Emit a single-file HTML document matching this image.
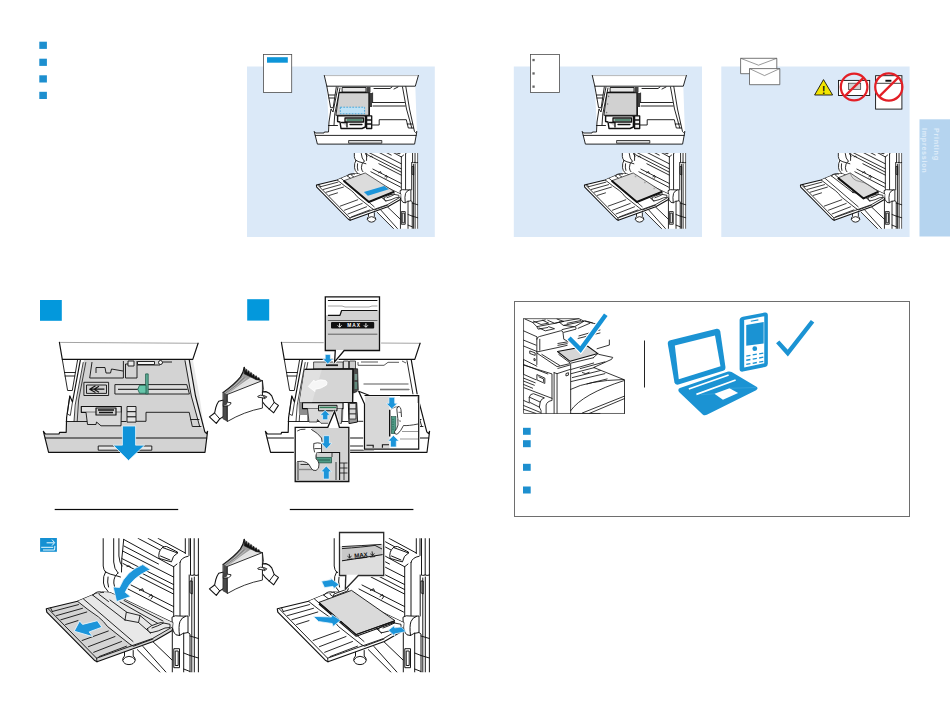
<!DOCTYPE html>
<html lang="en">
<head>
<meta charset="utf-8">
<title>Printing</title>
<style>
html,body{margin:0;padding:0;background:#fff;}
body{width:950px;height:713px;overflow:hidden;font-family:"Liberation Sans",sans-serif;}
svg{display:block;}
text{font-family:"Liberation Sans",sans-serif;}
</style>
</head>
<body>
<svg width="950" height="713" viewBox="0 0 950 713">
<defs>
<!-- ===== drawer tray shell, drawn in page coords of the large step-1 tray ===== -->
<g id="trayShell" stroke-linejoin="round" stroke-linecap="round">
  <!-- tray body gray -->
  <path d="M80.5 360 L189.5 360 L205 431.6 L207.6 431.3 L205 452.3 L48.6 452.3 L43.4 431.3 L45.5 434 L59 434 L59.7 432.3 L66 432.3 L66.5 417 Z" style="fill:var(--tray,#d3d3d3)" stroke="none"/>
  <!-- left cabinet side / rails white -->
  <path d="M62.3 359.4 L84 359.4 L76.5 400 L74 421 L66.3 421 L67.6 390.5 Z" fill="#fff" stroke="none"/>
  <path d="M185.5 360 L192.8 359.4 L199.5 396 L204.6 431 L199.7 426.5 L191.3 396 Z" style="fill:var(--wall,#e9e9e9)" stroke="none"/>
  <!-- housing -->
  <path d="M59.4 342.3 L198.1 343.2 L192.8 359.4 L62.3 359.4 Z" fill="#fff" stroke="none"/>
  <path d="M59.4 342.4 L198.1 343.3" fill="none" stroke="#9a9a9a" stroke-width="0.91"/>
  <path d="M59.4 342.3 L62.3 359.4 L192.8 359.4 L198.1 343.2" fill="none" stroke="#111" stroke-width="1.17"/>
  <!-- left side lines -->
  <path d="M62.3 359.4 L67.6 390.5 L72.3 390.5 L77.6 359.8 M64.5 372.5 L75.3 372.5 M65 376 L74.7 376" fill="none" stroke="#111" stroke-width="0.91"/>
  <path d="M80.3 360.3 L72.5 402 L69.8 396 L66.6 417.5 L66.2 432.3 L59.7 432.3 L59 434 L45.5 434 L43.4 431.3 L48.6 452.3 L205 452.3 L207.6 431.3 L206.6 433.6 L204.8 431.8 L195.5 396 L189.3 360.2" fill="none" stroke="#111" stroke-width="1.17"/>
  <path d="M83.2 362.5 L75.2 405 L74 421.5 M85.8 362.5 L78.6 400 L77.2 421.5 M69.8 396 L67.3 414 L70.3 415.5 L72.5 402" fill="none" stroke="#111" stroke-width="0.78"/>
  <!-- right wall inner -->
  <path d="M185 360.7 L191.3 396 L199.7 426.5" fill="none" stroke="#111" stroke-width="0.91"/>
  <!-- front face lines -->
  <path d="M45.2 438.1 L206.7 438.1" fill="none" stroke="#111" stroke-width="1.04"/>
  <path d="M66.2 421.5 L126 421.5 M136.5 421.3 L146 421.3 L146 412.3 L189.2 412.3 L192.3 426.5 L201 426.5 M190.7 419.5 L199 419.5" fill="none" stroke="#111" stroke-width="0.91"/>
  <!-- handle slot -->
  <rect x="98.6" y="446" width="53.2" height="4.2" style="fill:var(--slot,#e6e6e6)" stroke="#111" stroke-width="0.91"/>
</g>

<!-- empty tray details (step 1) -->
<g id="trayEmpty" fill="none" stroke="#111" stroke-width="0.91" stroke-linejoin="round">
  <!-- top compartments -->
  <path d="M89.7 378 L123.4 378 L123.4 361 M89.7 378 L92 362 M96 373 L96 367.5 L105 367.5 L106 373 L110.5 373 L111.5 369 L123 371 M125.5 378 L137 378 L137 361 M125.5 378 L125.5 364 L133 364 L133 361 M137 365 L160 365 L163 362 L172 362"/>
  <rect x="128" y="361" width="6" height="5" fill="#e8e8e8"/>
  <rect x="137.5" y="361.5" width="17" height="3" fill="#f4f4f4"/>
  <circle cx="160.5" cy="362.5" r="2" fill="#f4f4f4"/>
  <!-- arrow label -->
  <rect x="83.9" y="382.3" width="24.7" height="13.2" fill="#d9d9d9"/>
  <rect x="86.5" y="385" width="20" height="8.4" fill="#d0d0d0"/>
  <path d="M104.4 389.2 L90 389.2 M95.5 385.8 L89.7 389.2 L95.5 392.6 M99 386.3 L94 389.2 L99 392.2" stroke-width="1.17"/>
  <!-- slider track -->
  <path d="M114.9 384.6 L186.8 384.6 L189.4 394 L114.9 394 Z" fill="#dcdcdc"/>
  <path d="M118 389.3 L187.5 389.3" stroke="#333" stroke-width="1.30"/>
  <rect x="145.6" y="373.9" width="2.6" height="20" fill="#5fae97" stroke="#1d5b4b" stroke-width="0.78"/>
  <path d="M139.5 385.3 L146 385.3 L146 393.3 L139.5 393.3 L137.8 389.3 Z" fill="#66c7ab" stroke="#1d5b4b" stroke-width="0.78"/>
  <!-- front guide mechanism -->
  <rect x="81.3" y="406.5" width="40" height="5.8" fill="#e2e2e2" stroke-width="1.17"/>
  <path d="M86 412.3 L87.5 424.5 L96 424.5 L96.5 422 L101 425.8 L121 425.8 L121.3 412.3" fill="#d9d9d9"/>
  <rect x="96" y="408" width="20" height="7" fill="#cfcfcf" stroke-width="1.17"/>
  <path d="M98 410 L114 410 M99 412.5 L113 412.5" stroke-width="1.30"/>
  <rect x="127" y="406.5" width="9" height="5.2" fill="#e6e6e6"/>
  <rect x="127" y="411.7" width="9" height="5.2" fill="#e0e0e0"/>
  <rect x="127" y="416.9" width="9" height="5.2" fill="#e6e6e6"/>
</g>

<!-- big blue down arrow -->
<path id="arrowDown" d="M122.4 426 L135.6 426 L135.6 445.2 L144.6 445.2 L128.5 460.6 L113.2 445.2 L122.4 445.2 Z" fill="#0f93d9" stroke="#e8f6fd" stroke-width=".8"/>

<!-- small blue arrows (pointing down, tip at 0,0), length ~9.5 -->
<path id="arrS" d="M0 0 L-5.2 -5 L-2.6 -5 L-2.6 -9.5 L2.6 -9.5 L2.6 -5 L5.2 -5 Z" fill="#1c95da" stroke="#eaf6fd" stroke-width=".7"/>

<!-- hands holding fanned paper; local coords = 10.19x zoom of (205,360) -->
<g id="hands" stroke-linejoin="round" stroke-linecap="round">
  <!-- right hand (behind paper) -->
  <path d="M585 325 L620 322 Q660 335 680 365 L705 432 L748 462 L700 538 L655 500 Q615 470 585 425 Z" fill="#fff" stroke="#111" stroke-width="11.25"/>
  <path d="M705 432 L655 500" fill="none" stroke="#111" stroke-width="10.00"/>
  <!-- left hand back part -->
  <path d="M190 408 L140 420 Q118 450 110 485 L98 540 L45 580 L115 645 L150 600 L190 575 Z" fill="#fff" stroke="#111" stroke-width="11.25"/>
  <path d="M98 540 L150 600" fill="none" stroke="#111" stroke-width="10.00"/>
  <!-- stack side -->
  <path d="M185 330 L230 350 L230 625 L185 600 Z" fill="#4a4a4a" stroke="#222" stroke-width="6.25"/>
  <!-- fan -->
  <path d="M185 330 Q300 250 360 175 Q390 130 400 75 L585 210 L230 350 Z" fill="#9c9c9c" stroke="none"/>
  <path d="M230 350 L585 210 L470 175 Q380 230 230 350 Z" fill="#e4e4e4" stroke="none"/>
  <path d="M185 330 Q300 250 360 175 Q390 130 400 75" fill="none" stroke="#111" stroke-width="11.25"/>
  <path d="M400 75 L408 120 L420 95 L430 135 L444 110 L455 150 L470 128 L480 165 L496 145 L506 180 L522 160 L532 195 L548 178 L558 205 L585 210 L520 200 L400 140 Z" fill="#111" stroke="#111" stroke-width="6.25"/>
  <path d="M205 335 Q320 255 385 175 M215 340 Q340 260 420 185 M223 345 Q370 265 470 200" fill="none" stroke="#d8d8d8" stroke-width="5.00"/>
  <path d="M195 333 Q310 252 372 175 M210 338 Q330 258 400 180" fill="none" stroke="#555" stroke-width="5.00"/>
  <!-- front sheet -->
  <path d="M230 350 L585 210 L585 490 Q400 525 230 625 Z" fill="#fff" stroke="#111" stroke-width="8.75"/>
  <path d="M585 210 L597 300 L585 330" fill="none" stroke="#111" stroke-width="7.50"/>
  <!-- right fingers over paper -->
  <path d="M540 368 Q560 352 600 362 L630 375 L610 395 L585 385 L545 380 Z" fill="#fff" stroke="#111" stroke-width="8.75"/>
  <path d="M588 368 L625 378 L602 392 Z" fill="#333" stroke="none"/>
  <!-- left thumb over paper -->
  <path d="M190 440 Q235 422 265 435 Q270 450 240 465 L190 472 Z" fill="#fff" stroke="#111" stroke-width="8.75"/>
  <path d="M187 415 L226 422 L226 452 L200 466 L187 460 Z" fill="#444" stroke="none"/>
</g>

<!-- ===== bypass tray illustration (page coords of large bottom-left one) ===== -->
<clipPath id="bpClip"><rect x="40" y="538.3" width="159" height="134"/></clipPath>
<g id="bypassPrinter" stroke-linejoin="round" stroke-linecap="round">
  <!-- printer body white -->
  <path d="M103.2 538.3 L199 538.3 L199 675 L163 675 L134 648 L103.2 600 Z" fill="#fff" stroke="none"/>
  <g fill="none" stroke="#111" style="stroke-width:calc(var(--k,1)*0.98px)">
    <!-- left verticals -->
    <path d="M103.2 538 L103.2 566 Q103.5 570 105.5 572 M113.7 538 L113.7 562 Q114 569 118 573 M118.9 538 L118.9 556 Q119.5 563 122 566"/>
    <!-- left hinge bump -->
    <path d="M105.5 572 Q102.8 576 103.5 583 Q104 587.5 107 590 L109 593 M118 573 Q113.5 576.5 113.8 583 Q114 587 116 589 M105.5 572 Q110 574.5 115.5 575.5 L120.5 577 M108 577 Q107 582 108.5 587"/>
    <!-- door diagonals -->
    <path d="M123.7 539.4 L173.5 566.7 M122.6 551 L173.5 577 M121.8 558.5 L173.5 584.5 M124 546 L158.5 564 M123 563.5 L173.5 589.5 M138 538.3 L160 550 M148 538.3 L165 547.5 M158 538.3 L185.3 553 M123.7 539.4 L122.6 551 L121.8 558.5 L121.5 572"/>
    <path d="M131 585 L173.5 606.5 M128 589 L172.5 612 M140 577 L173.5 594"/>
    <path d="M127 566.5 L129 565.8 L130.5 567 M139.5 590.5 L142.5 588.7 L143.5 591 M149 596.5 L151.5 594.5 L152.5 597 L151 599"/>
    <!-- roller handle -->
    <path d="M159 558 Q157.8 551.5 162.5 547.5 L177.5 553 Q172.5 555.5 171.5 561.5 Z M162.5 547.5 Q164.5 546.3 166.5 546.5 L177.5 552 L177.5 553 M160.5 556 L170 560" fill="#fff"/>
    <!-- right column -->
    <path d="M173.7 566.7 L173.7 618 M180 562.5 L180 616 M180 562.5 Q181 557.5 188.4 556.2 L189 555.5 L189 538 M173.7 566.7 L177 564 M185.3 538 L185.3 553.5 M190.5 538 L190.5 575 M194.2 538 L194.2 575 Q191.5 576 190.5 575 M198.4 538 L198.4 575 Q196 576 194.2 575 M191.8 578 L191.8 676 M194.3 577 L194.3 676 M198.4 575 L198.4 676 M190.4 581 L192.2 581 L192.2 594 L190.4 593 Z M189.2 575 L189.2 616"/>
    <!-- hinge knob right -->
    <path d="M172.3 617 Q175 615 179 616 Q184 616.3 188 616 L188 632.5 Q182 633 179.5 635.5 L176 634.8 Q172.5 632 172.3 625 Z M179.5 635.5 Q178.3 626 180 621.5 Q181.5 617.5 185.5 616.3" fill="#fff"/>
    <path d="M183.7 633 L183.7 676 M188 632.5 L190 634 L190 676 M183.7 653 L190 655.5 M190 636 L198.4 638.5 M190 655.5 L198.4 658 M183.7 669 L190 671.5"/>
    <!-- lower door -->
    <path d="M137.4 649.7 L163 675.2 M143 646.5 L169 675.5 M153 641.8 L172 660 M172.3 631 L172.3 676" />
    <rect x="174.2" y="648.7" width="5.3" height="19" />
    <rect x="175.6" y="651" width="2.6" height="14.5" />
    <!-- foot knob -->
    <path d="M124.5 651.5 L124.5 656 Q122.3 658 122.8 660.5 Q124 664.6 129 664.6 Q134.3 664.4 135.2 660.3 Q135.5 657.8 133.2 656 L133.2 650.5" fill="#fff"/>
    <path d="M122.8 660 Q125 656.3 129 656.3 Q133.3 656.4 135.2 659.8"/>
  </g>
</g>
<g id="bypassTray" stroke-linejoin="round" stroke-linecap="round">
  <!-- whole tray silhouette -->
  <path d="M46.3 608.8 L77.5 601.3 L92.5 595 Q96 592.5 99.5 593.5 L103 592 L110 592.5 L172.8 622.8 L172.3 630.5 L153.3 641.5 L97 661.8 L94.3 660.2 L46.8 612.2 Z" style="stroke-width:calc(var(--k,1)*1.17px);fill:var(--tray,#d4d4d4)" stroke="#111"/>
  <!-- main part lighter -->
  <path d="M77.5 601.3 L92.5 595 Q96 592.5 99.5 593.5 L103 592 L110 592.5 L172.8 622.8 L172.3 628 L153 639 L130.5 644.7 Z" style="fill:var(--tray2,#e8e8e8)" stroke="none"/>
  <g fill="none" stroke="#111" style="stroke-width:calc(var(--k,1)*0.91px)">
    <!-- outer lip -->
    <path d="M48.6 609.2 L96.6 658.2 L152.5 638.5 L171.5 627.5 M96.6 658.2 L97 661.8 M50.5 607.8 L52.3 611.5"/>
    <!-- ribs -->
    <path d="M52.3 611.5 L78.5 604.6 M56.5 615.6 L82.5 608.3 M60.8 619.8 L86.8 612 M65.6 624.5 L78 620.6 M82.1 640.5 L108.3 631 M88.4 646.7 L115 636.5 M93.7 652.3 L121.5 641.5 M99 656.6 L126.5 646.2"/>
    <!-- seam between extension and main -->
    <path d="M77.5 601.3 Q88 610 98.5 617 Q104 621.5 107.5 626.5 L130.5 644.7 M83.5 599 L133 641.5 M130.5 644.7 L133.5 646.2 L153 639"/>
    <!-- main tray slots -->
    <path d="M92.5 595 L125 620 M99 594.3 L108.5 601.5 M110 600 L126.5 612 M125 620 L126.3 612.2 L140 615.5 L152 625.5 L150.5 633 M140 615.5 L138.5 622.5 L125 620 M138.5 622.5 L150.5 633 M120 602 L158 623.5 M124 600.5 L163 621"/>
    <!-- side guide right -->
    <path d="M147.5 628.5 Q150 625.5 158 623.3 Q162 621.8 163.5 623 L170 624.3 L170 627.5 L165 628 Q158 631.5 152 632.5 Q148 633 147.5 628.5 Z M152 628 Q158 626 163.5 623" style="fill:var(--tray2,#e8e8e8)"/>
    <!-- left guide bump -->
    <path d="M93 595.5 Q95 591.5 100 591.8 L103.5 592.5"/>
  </g>
</g>

<!-- ===== small drawer tray (page coords of panel 1) ===== -->
<g id="trayS" stroke-linejoin="round" stroke-linecap="round">
  <path d="M326.8 86.2 L415.3 86.2 L416.9 131.4 L414.6 144.1 L317.4 144.1 L314.2 131.4 L315.5 133 L324 133 L324.4 132 L328 132 L328.6 123 Z" fill="#fff" stroke="none"/>
  <path d="M324.3 75.5 L418.4 75.5 L415.3 86.2 L326.8 86.2 Z" fill="#fff" stroke="none"/>
  <path d="M324.3 75.6 L418.4 75.6" stroke="#a5a5a5" stroke-width="0.78" fill="none"/>
  <g fill="none" stroke="#111" stroke-width="0.91">
    <path d="M324.3 75.5 L326.8 86.2 L415.3 86.2 L418.4 75.5"/>
    <path d="M326.8 86.2 L330.6 107.7 L333.2 107.7 L336.3 87 M328.5 95 L334.8 95 M329 98 L334.4 98"/>
    <path d="M338 87 L333 112 L331 109 L329 122 L328.5 132 L324.4 132 L324 133 L315.5 133 L314.2 131.4 L317.4 144.1 L414.6 144.1 L416.9 131.4 L415.6 132.6 L414.5 131.6 L409.5 109 L405.8 86.6"/>
    <path d="M340 88 L334.8 114 L334 125 M402.5 87 L406.5 109 L411.8 128"/>
    <path d="M315.3 135.4 L416.2 135.4"/>
    <path d="M328.5 125.5 L337.5 125.5 M372 125 L379.2 125 L379.2 119.7 L406.3 119.7 L408.3 128 L413.5 128 M407.2 124 L412.5 124"/>
    <path d="M372.6 102.5 L404.5 102.5 M373 106 L405.2 106 M372.6 102.5 L372.6 93 M374 88.5 L390 88.5 L392 87 M394 89 L398 87"/>
    <rect x="349" y="140.5" width="32.8" height="2.7" fill="#ddd" stroke-width="0.78"/>
  </g>
  <!-- paper -->
  <path d="M339.5 92.5 L369.2 92.5 L369.2 115.3 L336.3 115.3 Z" fill="#d1d1d1" stroke="#111" stroke-width="0.91"/>
  <path d="M339.5 92.5 L369.2 92.5 L369.2 115.3" fill="none" stroke="#111" stroke-width="1.43"/>
  <!-- back guide -->
  <path d="M342.5 87.5 L366 87.5 L366 92 L342.5 92 Z" fill="#e6e6e6" stroke="#111" stroke-width="0.91"/>
  <rect x="366.5" y="87" width="4" height="5.5" fill="#444"/>
  <rect x="369.6" y="93" width="2.4" height="14" fill="#3c3c3c"/>
  <!-- front guide dark mass -->
  <path d="M337.6 115.9 L365.4 115.9 L365.4 127 L362 128.5 L341 128.5 L340 122 L337.6 121.5 Z" fill="#fff" stroke="#111" stroke-width="1.43"/>
  <path d="M345 118 L363.5 118 L363.5 122 L345 122 Z M341.5 122.5 L347 122.5 L347 127 M350 124.5 L362 124.5" fill="#d8d8d8" stroke="#111" stroke-width="1.30"/>
  <path d="M347 120 L362 120" stroke="#2b6d50" stroke-width="1.43"/>
  <path d="M366.6 115.9 L371.7 115.9 L371.7 128.5 L366.6 128.5 Z M366.6 120 L371.7 120 M366.6 124 L371.7 124" fill="#f2f2f2" stroke="#111" stroke-width="1.30"/>
</g>

<!-- bypass small clip handled per-instance -->
<clipPath id="bpClipS"><rect x="40" y="561" width="159" height="113.6"/></clipPath>
<path id="arrL" d="M0 0 L-5.4 -5.8 L-2.9 -5.8 L-2.9 -13.2 L2.9 -13.2 L2.9 -5.8 L5.4 -5.8 Z" fill="#1c95da" stroke="#eaf6fd" stroke-width=".7"/>
<path id="arrM" d="M0 0 L-5.6 -5.6 L-2.9 -5.6 L-2.9 -11.6 L2.9 -11.6 L2.9 -5.6 L5.6 -5.6 Z" fill="#1c95da" stroke="#eaf6fd" stroke-width=".7"/>
</defs>

<rect width="950" height="713" fill="#fff"/>
<!-- top-left bullets -->
<g fill="#1d8fcf">
<rect x="39.3" y="41.7" width="7.6" height="7.2"/>
<rect x="39.3" y="58.7" width="7.6" height="7.2"/>
<rect x="39.3" y="75.3" width="7.6" height="7.2"/>
<rect x="39.3" y="91.8" width="7.6" height="7.2"/>
</g>
<!-- light blue panels -->
<g fill="#dbe9f8">
<rect x="247" y="66.5" width="187.8" height="170.5"/>
<rect x="513.8" y="66.5" width="188.2" height="170.5"/>
<rect x="721.3" y="66.5" width="188.3" height="170.5"/>
</g>
<!-- step squares -->
<rect x="40" y="300" width="21.8" height="20.8" fill="#0398dc"/>
<rect x="247.2" y="299.2" width="22" height="21.4" fill="#0398dc"/>
<!-- separator lines -->
<rect x="54.7" y="508.9" width="123.5" height="1.2" fill="#0a0a0a"/>
<rect x="289.8" y="508.9" width="123.6" height="1.2" fill="#0a0a0a"/>
<!-- right box -->
<rect x="514.5" y="301.5" width="395" height="215" fill="#fff" stroke="#6e6e6e" stroke-width="1"/>
<g fill="#1d8fcf">
<rect x="523" y="427.8" width="7.7" height="7"/>
<rect x="523" y="440.2" width="7.7" height="7"/>
<rect x="523" y="463.8" width="7.7" height="7"/>
<rect x="523" y="486.5" width="7.7" height="7"/>
</g>
<rect x="644" y="340.5" width="1" height="47" fill="#222"/>

<g id="panels">
<!-- page icons -->
<rect x="263.5" y="54.4" width="28.2" height="38" fill="#fff" stroke="#4d4d4d" stroke-width=".8"/>
<rect x="267" y="57.2" width="20.8" height="5.5" fill="#0d95d8"/>
<rect x="530.5" y="54.4" width="29" height="38" fill="#fff" stroke="#4d4d4d" stroke-width=".8"/>
<g fill="#666"><rect x="532.4" y="58.9" width="2.3" height="2.3"/><rect x="532.4" y="72.3" width="2.3" height="2.3"/><rect x="532.4" y="85.5" width="2.3" height="2.3"/></g>
<!-- envelopes -->
<g fill="#fff" stroke="#555" stroke-width=".8" stroke-linejoin="round">
<rect x="740.6" y="58.3" width="36.2" height="15.4"/>
<path d="M740.6 58.3 L758.5 65.2 L776.8 58.3" fill="none" stroke-width=".6"/>
<rect x="749.5" y="68.6" width="30.3" height="16.1"/>
<path d="M749.5 68.6 L764.5 75.6 L779.8 68.6" fill="none" stroke-width=".6"/>
</g>
<!-- warning -->
<path d="M823.5 79.6 L832.6 95 L814.6 95 Z" fill="#f3e500" stroke="#111" stroke-width=".9" stroke-linejoin="round"/>
<text x="823.6" y="93.6" font-size="10" font-weight="bold" text-anchor="middle" fill="#111">!</text>
<!-- forbidden 1 -->
<rect x="838.5" y="80.4" width="31.2" height="15.1" fill="#fff" stroke="#111" stroke-width=".9"/>
<rect x="848.4" y="83.2" width="12.3" height="6.2" fill="#d2d2d2" stroke="#333" stroke-width=".7"/>
<g fill="none" stroke="#e31f26" stroke-width="2.2"><circle cx="854.1" cy="87" r="13.3"/><path d="M863.6 77.6 L844.6 96.4"/></g>
<!-- forbidden 2 -->
<rect x="875.6" y="75.7" width="26.3" height="33.4" fill="#fff" stroke="#111" stroke-width=".9"/>
<path d="M875.6 83.3 L901.9 83.3" stroke="#111" stroke-width=".8"/>
<rect x="885.4" y="79.8" width="6" height="1.9" fill="#111"/>
<g fill="none" stroke="#e31f26" stroke-width="2.2"><circle cx="888.8" cy="87" r="13.6"/><path d="M898.5 77.4 L879.1 96.6"/></g>

<!-- small trays -->
<g id="trayP1">
<use href="#trayS"/>
<rect x="340.3" y="107.2" width="24.3" height="6.6" fill="#bfe2f6" stroke="#2a9bd8" stroke-width=".8" stroke-dasharray="1.8 1.2"/>
</g>
<g id="trayP2" transform="translate(268,0)">
<use href="#trayS"/>
<g fill="#7a7a7a"><circle cx="340.6" cy="96.4" r=".8"/><circle cx="339.6" cy="104" r=".8"/><circle cx="338.6" cy="112.6" r=".8"/></g>
</g>

<!-- small bypass trays -->
<g id="bpS1" transform="translate(285.5,-221.1) scale(0.667)" style="--tray:#fff;--tray2:#fff;--k:1.35">
<g clip-path="url(#bpClipS)"><use href="#bypassPrinter"/></g>
<use href="#bypassTray"/>
<path d="M87.2 602.5 L119.5 590.8 L163.2 618.8 L125 634.3 Z" fill="#dcdcdc" stroke="#111" stroke-width="1"/>
<path d="M87.2 602.5 L125 634.3 L163.2 618.8" fill="none" stroke="#111" stroke-width="3" stroke-linejoin="round"/>
<path d="M117.5 619.3 L148 610.5 L155 615.3 L123.5 625 Z" fill="#1c95da"/>
</g>
<g id="bpS2" transform="translate(553.5,-221.1) scale(0.667)" style="--tray:#fff;--tray2:#fff;--k:1.35">
<g clip-path="url(#bpClipS)"><use href="#bypassPrinter"/></g>
<use href="#bypassTray"/>
<path d="M87.2 602.5 L119.5 590.8 L163.2 618.8 L125 634.3 Z" fill="#dcdcdc" stroke="#111" stroke-width="1"/>
<path d="M87.2 602.5 L125 634.3 L163.2 618.8" fill="none" stroke="#111" stroke-width="3" stroke-linejoin="round"/>
<g fill="#aaa"><circle cx="123" cy="596" r="1.3"/><circle cx="137" cy="605" r="1.3"/><circle cx="151" cy="614" r="1.3"/></g>
</g>
<g id="bpS3" transform="translate(769.5,-221.1) scale(0.667)" style="--tray:#fff;--tray2:#fff;--k:1.35">
<g clip-path="url(#bpClipS)"><use href="#bypassPrinter"/></g>
<use href="#bypassTray"/>
<path d="M102.5 598.2 L121 590.8 L163.5 618.8 L141 629 Z" fill="#dcdcdc" stroke="#111" stroke-width="1"/>
<path d="M102.5 598.2 L141 629 L163.5 618.8" fill="none" stroke="#111" stroke-width="3" stroke-linejoin="round"/>
<path d="M121 590.8 Q124 602 135 603.5 Q148 606 163.5 618.8" fill="none" stroke="#555" stroke-width=".8"/>
</g>
</g>

<g id="step1">
<use href="#trayShell"/>
<use href="#trayEmpty"/>
<use href="#arrowDown"/>
</g>

<g id="step2">
<!-- hands -->
<use href="#hands" transform="translate(205,360) scale(0.09815)"/>
<!-- tray shell (white) -->
<g transform="translate(222,0)" style="--tray:#fff;--wall:#fff;--slot:#fff">
<use href="#trayShell"/>
</g>
<!-- interior details -->
<g fill="none" stroke="#111" stroke-width=".7" stroke-linejoin="round">
  <!-- back right compartment lines -->
  <path d="M358 362 L358 365.3 L384 365.3 L388 362.3 L399 362.3 M361 362 L378 362 M363.5 384 L408.5 384 M380 389.5 L409.5 389.5 M402 361 L406 363"/>
  <path d="M380 389.5 L409 389.5" stroke="#777" stroke-width="1.6"/>
  <!-- back guide -->
  <rect x="313.6" y="362" width="29.4" height="7" fill="#d6d6d6"/>
  <rect x="326" y="364.3" width="12" height="1.8" fill="#222" stroke="none"/>
  <rect x="343.5" y="361" width="5" height="8" fill="#ddd"/>
  <rect x="349.5" y="361" width="6" height="8" fill="#ccc"/>
  <!-- side guide dark strip -->
  <path d="M353.3 368.8 L357.6 368.8 L358.3 391 L353.6 393 Z" fill="#4a4a4a"/>
  <rect x="354.6" y="374" width="2.6" height="6" fill="#7a9a90" stroke="none"/>
  <rect x="354.6" y="382" width="2.6" height="7" fill="#5f8a7c" stroke="none"/>
  <!-- paper -->
  <path d="M304.6 369.4 L353 368.8 L352.6 402.5 L299.4 402.5 Z" fill="#d5d5d5" stroke="#111" stroke-width="1"/>
  <path d="M304.6 369.4 L322 369.2 L312 402.5 L299.4 402.5 Z" fill="#e0e0e0" stroke="none"/>
  <path d="M304.6 369.4 L353 368.8 L352.6 402.5" stroke-width="1.3"/>
  <!-- white curl arrow on paper -->
  <path d="M325.5 380.5 Q320 378.5 314.5 382 L314 380 L308.3 386.5 L315 391.5 L314.8 389.3 Q321 389 326.5 385 Q328 382 325.5 380.5 Z" fill="#f6f6f6" stroke="#fff" stroke-width=".8"/>
  <!-- front guide mechanism -->
  <path d="M298.5 402.8 L299 415 L307 415 L307 421 L343 421 L343.5 402.8 Z" fill="#8d8d8d" stroke="none"/>
  <rect x="302.5" y="402.8" width="40.5" height="5.8" fill="#e2e2e2" stroke-width="1.1"/>
  <path d="M307.5 408.6 L309 422 L317 422 L317.5 419.5 L321 423.3 L341.5 423.3 L342 408.6" fill="#d9d9d9"/>
  <rect x="318.5" y="405.3" width="18.5" height="5.5" fill="#cfcfcf" stroke-width="1"/>
  <path d="M319.5 407.4 L336 407.4" stroke="#2e7d57" stroke-width="1.5"/>
  <!-- right knob -->
  <path d="M348.3 402.5 L356.7 402.5 L357.5 422 L349 423.6 Z" fill="#9a9a9a" stroke-width="1"/>
  <rect x="349.3" y="403.5" width="6.6" height="5.5" fill="#e2e2e2"/>
  <rect x="349.3" y="409" width="6.6" height="5" fill="#d6d6d6"/>
  <rect x="349.3" y="414" width="6.6" height="5" fill="#e2e2e2"/>
</g>
<!-- blue arrows on tray -->
<use href="#arrS" transform="translate(327.8,363.9)"/>
<use href="#arrS" transform="translate(325.2,410.2) rotate(180)"/>

<!-- MAX callout -->
<g>
  <path d="M325.3 296.8 L379.5 296.8 L379.5 350.5 L344.2 350.5 L334.6 361.8 L335.3 350.5 L325.3 350.5 Z" fill="#fff" stroke="#fff" stroke-width="3.2" stroke-linejoin="round"/>
  <path d="M325.3 296.8 L379.5 296.8 L379.5 350.5 L344.2 350.5 L334.6 361.8 L335.3 350.5 L325.3 350.5 Z" fill="#fff"/>
  <path d="M326 315.3 L340 315.3 L341.6 310.5 L379 310.5 L379 350 L326 350 Z" fill="#d1d1d1"/>
  <path d="M327.9 300.5 L377.4 300.5" stroke="#111" stroke-width="1" fill="none"/>
  <path d="M327.9 306 L342 306 L345 307 L369 307 L372 306 L377.4 306" stroke="#8a8a8a" stroke-width=".8" fill="none"/>
  <path d="M327.9 315.3 L340 315.3 L341.6 310.5 L377.4 310.5" stroke="#111" stroke-width="1.2" fill="none" stroke-linejoin="round"/>
  <path d="M327.9 320.5 L377.4 320.5 M327.9 334.2 L377.4 334.2" stroke="#444" stroke-width=".8" fill="none"/>
  <rect x="331" y="322" width="43.2" height="6.5" rx="1" fill="#111"/>
  <text x="347.2" y="327.1" font-size="4.8" font-weight="bold" fill="#fff" letter-spacing="1">MAX</text>
  <path d="M339.6 323.2 L339.6 327 M337.6 325.3 L339.6 327.3 L341.6 325.3 M365.9 323.2 L365.9 327 M363.9 325.3 L365.9 327.3 L367.9 325.3" stroke="#fff" stroke-width=".9" fill="none"/>
  <path d="M325.3 296.8 L379.5 296.8 L379.5 350.5 L344.2 350.5 L334.6 361.8 L335.3 350.5 L325.3 350.5 Z" fill="none" stroke="#111" stroke-width="1.3" stroke-linejoin="miter"/>
</g>

<!-- callout 3 (right) -->
<g>
  <path d="M364.5 395.5 L418.7 395.5 L418.7 449.2 L364.5 449.2 L364.5 404 L358.7 391.3 L369.5 395.5 Z" fill="#fff" stroke="#fff" stroke-width="2.6" stroke-linejoin="round"/>
  <path d="M365.2 396.2 L389.5 396.2 L389.5 448.5 L365.2 448.5 Z" fill="#d8d8d8"/>
  <path d="M389.7 409.7 L389.7 436.6" stroke="#111" stroke-width="1.4"/>
  <rect x="391.3" y="416.6" width="4.6" height="17" fill="#4f9c86" stroke="#1d4f42" stroke-width=".6"/>
  <path d="M393 419 L393 431" stroke="#1d4f42" stroke-width=".8" stroke-dasharray="1.2 1.2"/>
  <!-- hand -->
  <path d="M418 424 Q408 426 403.5 425.5 Q401 431 397.5 434 Q394.5 435 394.6 431.5 Q397 429 398 425 Q398 418 397.2 413 Q396 408 398 406.5 Q401 406 401.2 412 L401.5 417" fill="#fff" stroke="#111" stroke-width=".8" stroke-linejoin="round"/>
  <path d="M391 409 Q396 406 398.3 407 M398.5 412.3 L401 412.3 M398.5 420 Q400 422 401 421" stroke="#111" stroke-width=".6" fill="none"/>
  <path d="M400 396.2 L418 396.2 L418 403 M402 431.5 L418 431.5 M400 439 L418 439" stroke="#999" stroke-width="1.2" fill="none"/>
  <path d="M366.5 445.3 L373.2 445.3 L373.2 447.8 M382.4 447.8 L382.4 444.8 L389 444.8" stroke="#111" stroke-width="1.1" fill="none"/>
  <path d="M364.5 395.5 L418.7 395.5 L418.7 449.2 L364.5 449.2 L364.5 404 L358.7 391.3 L369.5 395.5 Z" fill="none" stroke="#111" stroke-width="1.2" stroke-linejoin="miter"/>
  <use href="#arrM" transform="translate(391.8,408.9)"/>
  <use href="#arrM" transform="translate(393.4,435.4) rotate(180)"/>
</g>

<!-- callout 2 (bottom) -->
<g>
  <path d="M295.2 427.3 L327.8 427.3 L334.6 411.5 L339.4 427.3 L348.8 427.3 L348.8 481.5 L295.2 481.5 Z" fill="#fff" stroke="#fff" stroke-width="2.6" stroke-linejoin="round"/>
  <path d="M312 428 L348.1 428 L348.1 480.8 L296 480.8 L296 462 L312 462 Z" fill="#d3d3d3"/>
  <!-- mechanism -->
  <path d="M316 452.5 L339.6 452.5 L339.6 480 M316 452.5 L316 458" stroke="#111" stroke-width="1.1" fill="none"/>
  <rect x="316.7" y="457.3" width="14.8" height="5.6" fill="#4f9c86" stroke="#1d4f42" stroke-width=".7"/>
  <path d="M318 460 L330 460" stroke="#1d4f42" stroke-width=".8"/>
  <path d="M298 462 L298 480 M300.5 464.5 L311 464.5 M332 452.5 L332 457 M336 462 L336 480 M340 463 L347.5 463 M340 468 L347.5 468 M340 473 L347.5 473 M344 463 L344 480" stroke="#111" stroke-width=".8" fill="none"/>
  <path d="M297 469.5 L316 469.5" stroke="#8a8a8a" stroke-width="1.4"/>
  <!-- hand -->
  <path d="M296 431 Q300 428.5 305 429.2 Q313 429.5 318 434 Q321.5 437.5 322.5 441.5 L321.5 452 L316.5 452.5 Q314.5 456 315.8 458.5 Q318.5 460 319 464 Q319.5 469 316 470.5 Q312.5 471 311 468 Q309.5 464 306.5 462.5 L296 462 Z" fill="#fff" stroke="none"/>
  <path d="M297.5 430.8 Q300 428.8 305 429.2 M311.5 429.5 Q318.5 433.5 321.5 438 L322 441.5 M321.5 444 L321.5 452 M314.5 443.3 Q317.5 442.3 320.5 443.2 M314.8 448.6 L320.5 448.6 M313.8 443.5 Q313 448 314.5 452 M297.5 461.5 Q303 460.5 306.5 462.5 Q309.5 464 311 468 Q312.5 471 316 470.5 Q319.5 469 319 464 Q318.5 460 315.8 458.5" stroke="#111" stroke-width=".8" fill="none" stroke-linecap="round"/>
  <path d="M295.2 427.3 L327.8 427.3 L334.6 411.5 L339.4 427.3 L348.8 427.3 L348.8 481.5 L295.2 481.5 Z" fill="none" stroke="#111" stroke-width="1.3" stroke-linejoin="miter"/>
  <use href="#arrL" transform="translate(326.5,448.9)"/>
  <use href="#arrL" transform="translate(326.3,465.9) rotate(180)"/>
</g>
</g>

<g id="bypass1">
<g clip-path="url(#bpClip)"><use href="#bypassPrinter"/></g>
<use href="#bypassTray"/>
<!-- curved blue arrow -->
<path d="M142.8 564.6 Q126 571 119.5 587.5 L113.2 587 L116.6 601.6 L130.5 596.5 L125.2 592.3 Q131.5 577.5 150.3 569.6 Z" fill="#1c95da" stroke="#e8f5fd" stroke-width=".8" stroke-linejoin="round"/>
<!-- left arrow -->
<path d="M74.2 631.2 L79.6 621 L82.6 624.4 L97.3 620.7 L101.9 627.2 L89.2 631.9 L92.6 636.6 Z" fill="#1c95da" stroke="#e8f5fd" stroke-width=".9" stroke-linejoin="round"/>
<!-- bypass icon -->
<rect x="40.1" y="538" width="16.8" height="13.8" fill="#1590d2"/>
<path d="M46.6 542.8 L54 542.8 M52 539.6 L54.7 542.7 L52 545.6 M41.2 547.3 L53.2 547.3 M43 550 L54.6 550 L54.9 545.9" fill="none" stroke="#eafaff" stroke-width="1"/>
</g>

<g id="bypass2">
<use href="#hands" transform="translate(205,532) scale(0.09815)"/>
<g transform="translate(231,0)" style="--tray:#fff;--tray2:#fff">
<g clip-path="url(#bpClip)"><use href="#bypassPrinter"/></g>
<use href="#bypassTray"/>
</g>
<!-- paper stack -->
<path d="M318.9 602.4 L351.5 590.4 L395 620.7 L356.2 634.6 Z" fill="#dadada" stroke="#111" stroke-width=".9" stroke-linejoin="round"/>
<path d="M318.9 602.4 L356.2 634.6 L395 620.7 M318.9 604 L356.2 636.3 L395 622.3" fill="none" stroke="#111" stroke-width="1.1" stroke-linejoin="round"/>
<!-- side guide near callout -->
<path d="M333 596.5 L347.5 591 L348.5 588.5 L334 594 Z" fill="#fff" stroke="#111" stroke-width=".9" stroke-linejoin="round"/>
<!-- arrows -->
<path d="M321.5 581.2 L331 579.6 L330 577.8 L339.2 584.6 L333.8 588.6 L333 586.4 L324.5 587.6 Z" fill="#1c95da" stroke="#e8f5fd" stroke-width=".8" stroke-linejoin="round"/>
<path d="M313.3 616.4 L331.5 617 L331.8 614.6 L340.7 620.3 L333 626.5 L332.2 623.5 L318.5 621.5 Z" fill="#1c95da" stroke="#e8f5fd" stroke-width=".8" stroke-linejoin="round"/>
<path d="M406 631.6 L394.5 634 L394.8 636.2 L388.3 630.2 L394.3 625.6 L394.7 627.8 L401.5 627 Z" fill="#1c95da" stroke="#e8f5fd" stroke-width=".8" stroke-linejoin="round"/>
<!-- MAX callout -->
<g>
  <path d="M339.5 532.5 L383.7 532.5 L383.7 575.5 L358.4 575.5 L345.3 589.2 L345.8 575.5 L339.5 575.5 Z" fill="#fff" stroke="#fff" stroke-width="3" stroke-linejoin="round"/>
  <path d="M340.2 546.3 L383 544.3 L383 574.8 L340.2 574.8 Z" fill="#dedede"/>
  <path d="M342 547.3 L381.5 545 L382.5 555 L342 560.6 Z" fill="#c9c9c9"/>
  <path d="M342 546.6 Q362 545.6 381.5 544.4 M342 548.6 Q362 547.2 375 545.4 L382 549" fill="none" stroke="#111" stroke-width=".9"/>
  <path d="M342 560.8 L382.6 554.6" fill="none" stroke="#111" stroke-width="1"/>
  <g transform="rotate(-6 361 555)">
    <text x="360.9" y="557.4" text-anchor="middle" font-size="6.2" font-weight="bold" fill="#111" letter-spacing="-.1">MAX</text>
    <path d="M349.4 552.6 L349.4 556.6 M347.4 554.8 L349.4 556.8 L351.4 554.8 M346.8 558 L352 558 M372.4 552.6 L372.4 556.6 M370.4 554.8 L372.4 556.8 L374.4 554.8 M369.8 558 L375 558 M354.8 558 L367 558" fill="none" stroke="#111" stroke-width=".8"/>
  </g>
  <path d="M339.5 532.5 L383.7 532.5 L383.7 575.5 L358.4 575.5 L345.3 589.2 L345.8 575.5 L339.5 575.5 Z" fill="none" stroke="#2a2a2a" stroke-width="1.3" stroke-linejoin="miter"/>
</g>
</g>

<g id="box">
<!-- printer illustration -->
<clipPath id="prClip"><rect x="523.2" y="318.2" width="102" height="95.6"/></clipPath>
<g clip-path="url(#prClip)" fill="none" stroke="#111" stroke-linejoin="round" stroke-linecap="round">
  <rect x="523.2" y="318.2" width="102" height="95.6" fill="#fff" stroke="none"/>
  <!-- zoom A: origin (520,314) scale 1/11.875 -->
  <g transform="translate(520,314) scale(0.08421)" stroke-width="10">
    <path d="M42 55 L42 712 M42 55 L700 55"/>
    <path d="M60 60 L150 100 L300 70 M150 100 L200 150 L420 110 L470 95 M160 85 L250 125 L340 108 L270 75 M330 75 L410 110 L520 88 L440 60 M200 150 L215 180 L330 160 M225 165 L300 200 L410 175 L340 150 M470 95 L700 55 L760 85 L520 135 Z M520 135 L640 150 M560 110 L720 78"/>
    <path d="M42 200 L200 270 M42 310 L190 370 M42 380 L200 445 M42 540 L200 620 M42 600 L330 712"/>
    <path d="M200 300 Q200 275 230 268 L480 200 Q505 192 510 215 L520 300 L560 320 M205 450 L440 400 L560 372 M200 280 L200 600 M235 300 L235 430"/>
    <path d="M500 185 L650 150 Q675 160 665 180 L520 218 M650 150 L770 80 L860 105 M690 170 L830 110 M700 260 L950 190 M690 290 L950 225 M770 85 L950 130"/>
    <path d="M120 440 L180 462 L180 492 L120 470 Z M170 530 L180 533 L180 555 L170 552 Z"/>
    <path d="M210 470 L440 625 L590 590 M260 480 L470 610 M450 350 L600 325 M450 372 L560 352"/>
    <path d="M445 445 L800 380 L925 470 L595 562 Z" fill="#d6d6d6" stroke-width="13"/>
    <path d="M460 480 L600 585 L870 520 M870 520 L925 470 M210 470 L210 470"/>
  </g>
  <!-- zoom B: origin (520,360) scale 1/11.875 -->
  <g transform="translate(520,360) scale(0.08421)" stroke-width="10">
    <path d="M42 0 L42 635 L950 635"/>
    <path d="M42 60 L380 165 L380 470 M42 170 L190 235 M42 215 L180 270 M42 250 L170 300 M42 290 L150 335 M50 330 L380 455 M205 175 L295 215 L295 278 L205 238 Z M225 200 L280 225 L280 255"/>
    <path d="M405 150 L405 635 M440 165 L440 635 M405 150 L440 162 L595 112 M450 100 L590 60 M550 160 L575 150 L575 180 L550 188 Z"/>
    <path d="M110 440 Q120 400 160 400 L290 450 Q250 460 240 500 L110 440 L110 500 L230 560 L240 500 M310 635 L310 535 Q320 490 380 480 M42 480 L110 510 M42 540 L240 622 M42 585 L190 635 M230 560 L250 600 L250 635"/>
    
  </g>
  <!-- zoom C: origin (560,340) scale 1/8.9125 -->
  <g transform="translate(560,340) scale(0.1122)" stroke-width="7.5">
    <path d="M440 0 L440 45 L330 78 M345 128 L470 155 L460 172 L300 245 L575 355 L575 655 M95 215 L95 655 M100 262 L300 205 M100 300 L310 245 M110 335 L360 272 M100 370 L400 300 M240 392 L420 347 M95 440 Q250 360 570 352 M95 630 Q200 480 570 362 M200 650 L575 500 M260 655 L575 522 M200 290 L230 300 L260 288 M180 255 L400 195 M95 655 L575 655"/>
  </g>
  
</g>
<!-- check on printer -->
<path d="M569.1 338 L580.5 349.6 L605.8 314.8" fill="none" stroke="#fff" stroke-width="6.6" stroke-linejoin="miter" stroke-linecap="butt"/>
<path d="M569.1 338 L580.5 349.6 L605.8 314.8" fill="none" stroke="#1592d6" stroke-width="4.4" stroke-linejoin="miter" stroke-linecap="butt"/>

<!-- laptop: local coords = 5.278x zoom of (650,300) -->
<g transform="translate(650,300) scale(0.18947)">
  <path d="M108 212 L352 152 Q368 150 371 166 L398 352 Q400 368 386 373 L150 446 Q132 450 129 434 L94 232 Q92 216 108 212 Z" fill="#1b93d3"/>
  <path d="M131 240 L343 187 L372 350 L152 418 Z" fill="#fff"/>
  <path d="M158 464 L412 378 Q422 375 431 380 L562 458 Q574 467 560 476 L300 606 Q288 612 278 604 L156 488 Q142 472 158 464 Z" fill="#1b93d3"/>
  <path d="M205 470 L415 396 M245 498 L452 422" fill="none" stroke="#fff" stroke-width="9"/>
  <path d="M340 495 L420 466 L465 491 L385 526 Z" fill="#fff"/>
  <path d="M420 466 L560 462 M270 500 L340 495" stroke="#5fb4e2" stroke-width="2" fill="none"/>
  <!-- phone -->
  <path d="M490 88 L606 66 Q622 64 622 80 L622 336 Q622 350 608 353 L490 378 Q473 380 473 364 L473 106 Q473 91 490 88 Z" fill="#1b93d3"/>
  <path d="M497 105 L603 86 L603 334 L497 356 Z" fill="#fff"/>
  <path d="M508 132 L600 116 L600 230 L508 242 Z" fill="#1b93d3"/>
  <path d="M532 112 L572 105" stroke="#1b93d3" stroke-width="6" fill="none"/>
  <circle cx="553" cy="257" r="12.5" fill="#1b93d3"/>
  <g stroke="#1b93d3" stroke-width="7" fill="none">
    <path d="M508 296 L530 292 M542 290 L564 286 M576 284 L598 280"/>
    <path d="M508 318 L530 314 M542 312 L564 308 M576 306 L598 302"/>
    <path d="M508 340 L530 336 M542 334 L564 330 M576 328 L598 324"/>
  </g>
  <!-- check -->
  <path d="M674 221 L727 280 L858 112" fill="none" stroke="#1b93d3" stroke-width="23" stroke-linejoin="miter"/>
</g>
</g>

<rect x="919.5" y="119.3" width="31" height="117.2" fill="#b5d4ef"/>
<g font-weight="bold" font-size="7.2" fill="#deecf9" letter-spacing="0.7">
<text transform="translate(934.1,128) rotate(90)">Printing</text>
<text transform="translate(922.1,128) rotate(90)">Impression</text>
</g>

</svg>
</body>
</html>
